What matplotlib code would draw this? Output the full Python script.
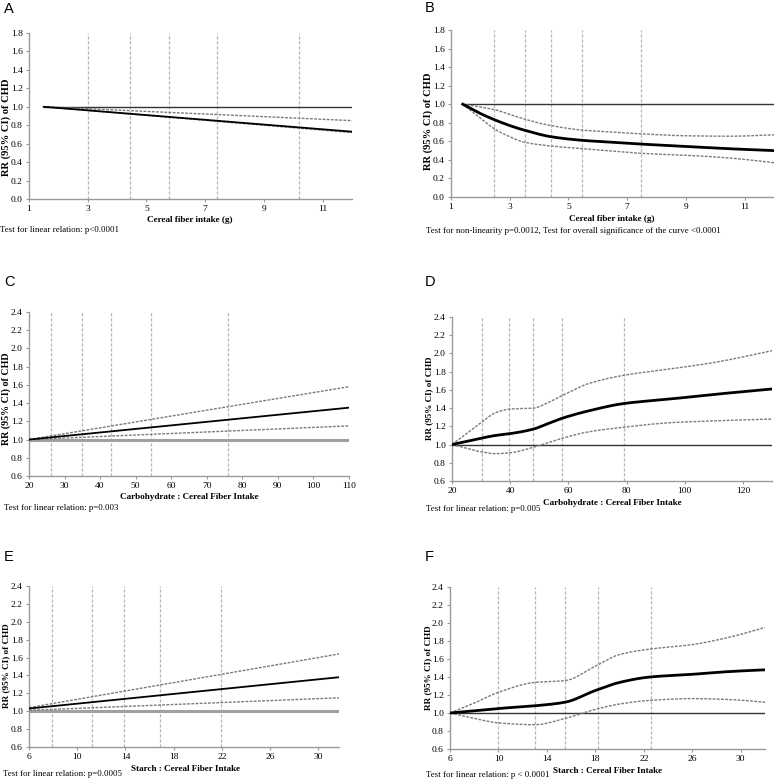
import matplotlib
matplotlib.use("Agg")
import matplotlib.pyplot as plt
import numpy as np

# ---------------- data ----------------
# Panel A: cereal fiber intake (linear)
a_x = [1.5, 12.0]
a_rr = [1.0, 0.73]
a_upper = [1.0, 0.85]
a_lower = [1.0, 0.72]
a_ref_x = [1.5, 12.0]
a_vlines = [3.0, 4.43, 5.78, 7.4, 10.2]
a_xticks = [1, 3, 5, 7, 9, 11]

# Panel B: cereal fiber intake (spline)
b_x = [1.4, 2.0, 2.5, 3.0, 3.5, 4.4, 5.5, 6.5, 7.5, 9.0, 10.5, 12.0]
b_rr = [1.0, 0.90, 0.83, 0.77, 0.72, 0.65, 0.61, 0.59, 0.57, 0.545, 0.52, 0.50]
b_upper = [1.0, 0.97, 0.94, 0.89, 0.84, 0.77, 0.72, 0.70, 0.68, 0.66, 0.655, 0.67]
b_lower = [1.0, 0.85, 0.73, 0.65, 0.59, 0.55, 0.52, 0.495, 0.47, 0.45, 0.42, 0.37]
b_ref_x = [1.4, 12.0]
b_vlines = [2.47, 3.53, 4.41, 5.47, 7.48]
b_xticks = [1, 3, 5, 7, 9, 11]

# Panel C: carbohydrate : cereal fiber (linear)
c_x = [20, 110]
c_rr = [1.0, 1.35]
c_upper = [1.0, 1.58]
c_lower = [1.0, 1.15]
c_ref_x = [20, 110]
c_vlines = [26.3, 35.0, 43.2, 54.2, 75.9]
c_xticks = [20, 30, 40, 50, 60, 70, 80, 90, 100, 110]

# Panel D: carbohydrate : cereal fiber (spline)
d_x = [20, 25, 30, 35, 40, 48, 53, 58, 67, 79, 95, 110, 130]
d_rr = [1.0, 1.035, 1.07, 1.10, 1.12, 1.17, 1.23, 1.29, 1.37, 1.45, 1.50, 1.55, 1.61]
d_upper = [1.0, 1.12, 1.24, 1.35, 1.39, 1.40, 1.46, 1.54, 1.67, 1.76, 1.83, 1.90, 2.03]
d_lower = [1.0, 0.96, 0.92, 0.90, 0.91, 0.97, 1.02, 1.07, 1.14, 1.19, 1.24, 1.26, 1.28]
d_ref_x = [20, 130]
d_vlines = [30.2, 39.5, 47.7, 57.9, 79.0]
d_xticks = [20, 40, 60, 80, 100, 120]

# Panel E: starch : cereal fiber (linear)
e_x = [6.0, 31.7]
e_rr = [1.03, 1.38]
e_upper = [1.04, 1.64]
e_lower = [1.01, 1.15]
e_ref_x = [6.0, 31.7]
e_vlines = [7.9, 11.2, 13.9, 16.9, 21.9]
e_xticks = [6, 10, 14, 18, 22, 26, 30]

# Panel F: starch : cereal fiber (spline)
f_x = [6, 8, 10, 13, 15.5, 18, 20, 22.5, 26, 29, 32]
f_rr = [1.0, 1.025, 1.05, 1.08, 1.12, 1.25, 1.34, 1.40, 1.43, 1.46, 1.48]
f_upper = [1.0, 1.11, 1.23, 1.34, 1.36, 1.52, 1.65, 1.71, 1.76, 1.84, 1.95]
f_lower = [1.0, 0.94, 0.89, 0.87, 0.94, 1.04, 1.10, 1.14, 1.16, 1.15, 1.12]
f_ref_x = [6, 32]
f_vlines = [9.94, 13.03, 15.5, 18.2, 22.6]
f_xticks = [6, 10, 14, 18, 22, 26, 30]

ylabel = "RR (95% CI) of CHD"

# ---------------- figure ----------------
W, H = 774, 780
fig = plt.figure(figsize=(W / 100, H / 100), dpi=100)
fig.patch.set_facecolor("white")

SERIF = ["Liberation Serif", "DejaVu Serif"]
SANS = ["Liberation Sans", "DejaVu Sans"]


def ax_px(l, r, t, b):
    return fig.add_axes([l / W, 1 - b / H, (r - l) / W, (b - t) / H])


def smooth(x, y, n=200):
    x = np.asarray(x, float)
    y = np.asarray(y, float)
    if len(x) < 3:
        return x, y
    h = np.diff(x)
    d = np.diff(y) / h
    m = np.zeros_like(y)
    m[0], m[-1] = d[0], d[-1]
    for i in range(1, len(x) - 1):
        if d[i - 1] * d[i] <= 0:
            m[i] = 0
        else:
            w1 = 2 * h[i] + h[i - 1]
            w2 = h[i] + 2 * h[i - 1]
            m[i] = (w1 + w2) / (w1 / d[i - 1] + w2 / d[i])
    xs = np.linspace(x[0], x[-1], n)
    ys = np.empty_like(xs)
    for j, xv in enumerate(xs):
        i = min(np.searchsorted(x, xv, side="right") - 1, len(x) - 2)
        t = (xv - x[i]) / h[i]
        h00 = 2 * t**3 - 3 * t**2 + 1
        h10 = t**3 - 2 * t**2 + t
        h01 = -2 * t**3 + 3 * t**2
        h11 = t**3 - t**2
        ys[j] = h00 * y[i] + h10 * h[i] * m[i] + h01 * y[i + 1] + h11 * h[i] * m[i + 1]
    return xs, ys


def panel(box, letter, letter_xy, x, rr, up, lo, ref_x, vlines, xticks, xlim,
          ylim, ystep, xlabel, xlabel_xy, note, note_xy, ylabel_xy, ylabel_size,
          bold_main=False, grey_ref=False):
    ax = ax_px(*box)
    for v in vlines:
        ax.axvline(v, color="#b4b4b4", lw=0.9, ls=(0, (2.5, 1.5)), zorder=1)
    if grey_ref:
        ax.plot(ref_x, [1.0, 1.0], color="#a0a0a0", lw=2.2, zorder=2, solid_capstyle="butt")
    else:
        ax.plot(ref_x, [1.0, 1.0], color="#333333", lw=1.0, zorder=2)
    xs, ys = smooth(x, up)
    ax.plot(xs, ys, color="#7a7a7a", lw=1.0, ls=(0, (2, 1)), zorder=3)
    xs, ys = smooth(x, lo)
    ax.plot(xs, ys, color="#7a7a7a", lw=1.0, ls=(0, (2, 1)), zorder=3)
    xs, ys = smooth(x, rr)
    ax.plot(xs, ys, color="black", lw=2.0 if bold_main else 1.3, zorder=4)
    ax.set_xlim(*xlim)
    ax.set_ylim(*ylim)
    ax.set_xticks(xticks)
    yt = np.round(np.arange(ylim[0], ylim[1] + 1e-9, ystep), 1)
    ax.set_yticks(yt)
    ax.set_yticklabels([f"{v:.1f}" for v in yt])
    ax.set_xticklabels([str(t) for t in xticks])
    for s in ["top", "right"]:
        ax.spines[s].set_visible(False)
    for s in ["left", "bottom"]:
        ax.spines[s].set_color("#999999")
        ax.spines[s].set_linewidth(1.0)
    ax.tick_params(axis="both", colors="#999999", length=2.5, width=0.8,
                   labelsize=6.8, labelcolor="black", pad=2)
    for lab in ax.get_xticklabels() + ax.get_yticklabels():
        lab.set_family(SERIF)
    fig.text(ylabel_xy[0] / W, 1 - ylabel_xy[1] / H, ylabel, rotation=90,
             ha="center", va="center", family=SERIF, fontweight="bold",
             fontsize=ylabel_size)
    fig.text(xlabel_xy[0] / W, 1 - xlabel_xy[1] / H, xlabel, ha="center", va="center",
             family=SERIF, fontweight="bold", fontsize=6.6)
    fig.text(note_xy[0] / W, 1 - note_xy[1] / H, note, ha="left", va="center",
             family=SERIF, fontsize=6.4)
    fig.text(letter_xy[0] / W, 1 - letter_xy[1] / H, letter, ha="left", va="center",
             family=SANS, fontsize=10.5)
    return ax


panel((29, 352, 33, 199), "A", (4, 9), a_x, a_rr, a_upper, a_lower, a_ref_x,
      a_vlines, a_xticks, (1, 12), (0.0, 1.8), 0.2,
      "Cereal fiber intake (g)", (190, 220), "Test for linear relation: p<0.0001",
      (0, 230), (6, 127), 7.6)
panel((451, 774, 30, 197), "B", (425, 8), b_x, b_rr, b_upper, b_lower, b_ref_x,
      b_vlines, b_xticks, (1, 12), (0.0, 1.8), 0.2,
      "Cereal fiber intake (g)", (612, 219), "Test for non-linearity p=0.0012, Test for overall significance of the curve <0.0001",
      (426, 231), (428, 121), 7.6, bold_main=True)
panel((29, 349, 312, 476), "C", (4, 282), c_x, c_rr, c_upper, c_lower, c_ref_x,
      c_vlines, c_xticks, (20, 110), (0.6, 2.4), 0.2,
      "Carbohydrate : Cereal Fiber Intake", (189, 497), "Test for linear relation: p=0.003",
      (4, 508), (6, 399), 7.2, grey_ref=True)
panel((452, 772, 317, 481), "D", (425, 282), d_x, d_rr, d_upper, d_lower, d_ref_x,
      d_vlines, d_xticks, (20, 130), (0.6, 2.4), 0.2,
      "Carbohydrate : Cereal Fiber Intake", (612, 503), "Test for linear relation: p=0.005",
      (426, 509), (429, 398), 6.5, bold_main=True)
panel((29, 339, 586, 747), "E", (4, 557), e_x, e_rr, e_upper, e_lower, e_ref_x,
      e_vlines, e_xticks, (6, 31.7), (0.6, 2.4), 0.2,
      "Starch : Cereal Fiber Intake", (186, 769), "Test for linear relation: p=0.0005",
      (3, 774), (6, 666), 6.6, grey_ref=True)
panel((450, 765, 587, 749), "F", (425, 557), f_x, f_rr, f_upper, f_lower, f_ref_x,
      f_vlines, f_xticks, (6, 32), (0.6, 2.4), 0.2,
      "Starch : Cereal Fiber Intake", (608, 771), "Test for linear relation: p < 0.0001",
      (426, 775), (428, 668), 6.6, bold_main=True)

fig.savefig("out.png", dpi=100, facecolor="white")
